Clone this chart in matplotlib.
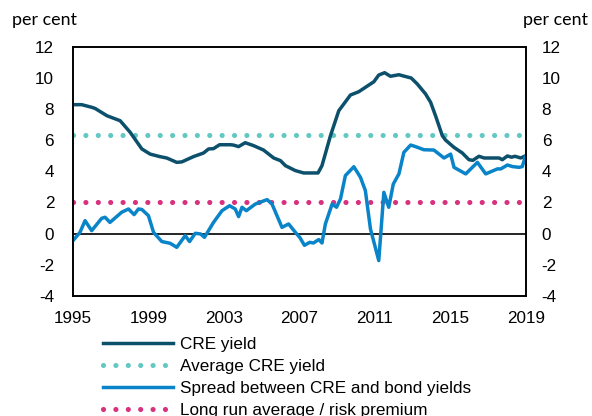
import matplotlib
matplotlib.use("Agg")
import matplotlib.pyplot as plt

# CRE yield, per cent
cre_x = [1995.0, 1995.46, 1996.0, 1996.17, 1996.8, 1997.5, 1998.03, 1998.65, 1999.09, 1999.6,
         1999.97, 2000.5, 2000.77, 2001.39, 2001.92, 2002.19, 2002.45, 2002.77, 2003.34, 2003.5,
         2003.78, 2004.13, 2004.58, 2005.1, 2005.64, 2006.0, 2006.26, 2006.79, 2007.23, 2007.99,
         2008.2, 2008.65, 2009.09, 2009.71, 2010.15, 2010.5, 2010.95, 2011.21, 2011.52, 2011.83,
         2012.28, 2012.55, 2012.93, 2013.25, 2013.69, 2013.96, 2014.22, 2014.58, 2014.75, 2015.2,
         2015.64, 2015.99, 2016.2, 2016.52, 2016.8, 2017.59, 2017.76, 2018.03, 2018.25, 2018.43,
         2018.74, 2019.0]
cre_yield = [8.27, 8.27, 8.1, 8.03, 7.56, 7.24, 6.5, 5.43, 5.1, 4.94,
             4.85, 4.57, 4.6, 4.94, 5.17, 5.43, 5.45, 5.7, 5.7, 5.68,
             5.58, 5.83, 5.64, 5.36, 4.85, 4.68, 4.36, 4.04, 3.89, 3.89,
             4.36, 6.28, 7.88, 8.89, 9.1, 9.38, 9.74, 10.17, 10.32, 10.09,
             10.19, 10.1, 9.98, 9.6, 8.96, 8.42, 7.56, 6.28, 6.0, 5.53,
             5.17, 4.74, 4.7, 4.96, 4.85, 4.85, 4.74, 4.98, 4.9, 4.96,
             4.85, 5.0]

# spread between CRE and bond yields
spread_x = [1995.0, 1995.37, 1995.64, 1995.99, 1996.52, 1996.7, 1996.96, 1997.58, 1997.94, 1998.24,
            1998.47, 1998.65, 1999.0, 1999.27, 1999.71, 2000.15, 2000.5, 2000.95, 2001.18, 2001.48,
            2001.76, 2001.97, 2002.45, 2002.9, 2003.3, 2003.6, 2003.78, 2003.96, 2004.19, 2004.67,
            2005.29, 2005.55, 2006.08, 2006.43, 2006.79, 2007.02, 2007.27, 2007.55, 2007.75, 2008.03,
            2008.2, 2008.38, 2008.74, 2008.97, 2009.18, 2009.44, 2009.89, 2010.24, 2010.5, 2010.77,
            2011.21, 2011.48, 2011.74, 2011.98, 2012.28, 2012.54, 2012.9, 2013.16, 2013.6, 2014.13,
            2014.67, 2015.02, 2015.2, 2015.82, 2016.44, 2016.88, 2017.5, 2017.68, 2018.03, 2018.3,
            2018.65, 2018.82, 2018.97]
spread = [-0.45, 0.08, 0.83, 0.19, 0.98, 1.05, 0.72, 1.37, 1.58, 1.22,
          1.58, 1.55, 1.15, 0.08, -0.51, -0.62, -0.88, -0.13, -0.51, 0.02,
          -0.02, -0.24, 0.72, 1.47, 1.79, 1.58, 1.09, 1.69, 1.47, 1.9,
          2.18, 1.9, 0.4, 0.62, 0.08, -0.24, -0.75, -0.56, -0.6, -0.38,
          -0.6, 0.62, 1.9, 1.69, 2.22, 3.72, 4.29, 3.61, 2.76, 0.3,
          -1.73, 2.65, 1.69, 3.18, 3.83, 5.21, 5.68, 5.58, 5.38, 5.36,
          4.85, 5.1, 4.25, 3.83, 4.57, 3.83, 4.15, 4.15, 4.4, 4.3,
          4.25, 4.3, 4.9]

avg_cre = 6.35
long_run = 2.0

year_ticks = [1995, 1999, 2003, 2007, 2011, 2015, 2019]
y_ticks = [-4, -2, 0, 2, 4, 6, 8, 10, 12]

labels = ["CRE yield", "Average CRE yield", "Spread between CRE and bond yields",
          "Long run average / risk premium"]

plt.rcParams['font.family'] = ['Liberation Sans', 'DejaVu Sans']
plt.rcParams['axes.unicode_minus'] = False
fs = 12.3

fig = plt.figure(figsize=(5.92, 4.16), dpi=100)
ax = fig.add_axes([0.1233, 0.2885, 0.7647, 0.5997])

dots = (0, (0.01, 2.4))
ax.axhline(0, color="black", lw=1.2, zorder=1)
l2, = ax.plot([1995, 2019], [avg_cre, avg_cre], color="#63c8c2", lw=3.7,
              linestyle=dots, dash_capstyle="round", zorder=2)
l4, = ax.plot([1995, 2019], [long_run, long_run], color="#d8317e", lw=3.7,
              linestyle=dots, dash_capstyle="round", zorder=2)
l1, = ax.plot(cre_x, cre_yield, color="#0d506c", lw=2.5, zorder=3)
l3, = ax.plot(spread_x, spread, color="#0a84c8", lw=2.5, zorder=3)

ax.set_xlim(1995, 2019)
ax.set_ylim(-4, 12)
ax.set_xticks(year_ticks)
ax.set_yticks(y_ticks)
ax.tick_params(length=0, labelsize=fs)
ax.tick_params(axis="y", pad=13.5)
ax.tick_params(axis="x", pad=10.5)
for s in ax.spines.values():
    s.set_linewidth(1.2)

ax2 = ax.twinx()
ax2.set_ylim(-4, 12)
ax2.set_yticks(y_ticks)
ax2.tick_params(length=0, labelsize=fs, pad=11.5)
for s in ax2.spines.values():
    s.set_linewidth(1.2)

fig.text(12 / 592, 1 - 20 / 416, "per cent", fontsize=12.9, family="Lato", va="center", ha="left")
fig.text(588 / 592, 1 - 20 / 416, "per cent", fontsize=12.9, family="Lato", va="center", ha="right")

fig.legend([l1, l2, l3, l4], labels, loc="upper left", bbox_to_anchor=(103 / 592, 1 - 337 / 416),
           frameon=False, fontsize=fs, handlelength=4.1, handletextpad=0.4,
           labelspacing=0.4, borderpad=0, borderaxespad=0)

fig.savefig("out.png", dpi=100)
